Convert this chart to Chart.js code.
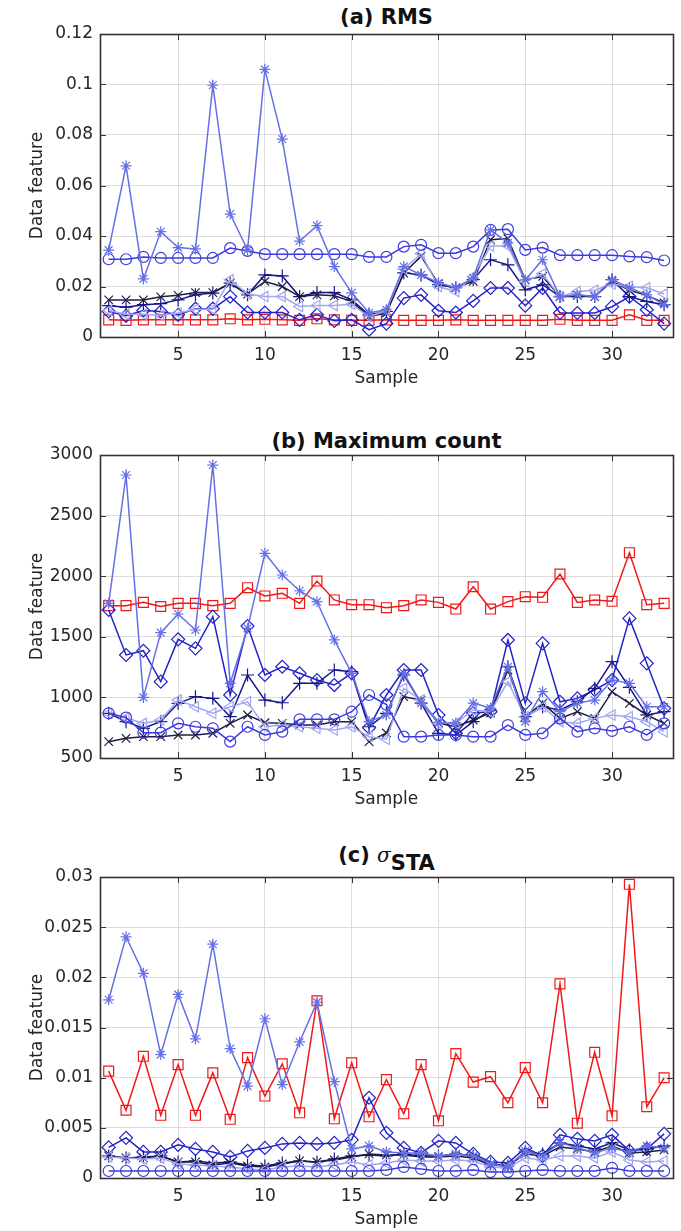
<!DOCTYPE html>
<html lang="en">
<head>
<meta charset="UTF-8">
<title>Data features</title>
<script src="https://cdn.jsdelivr.net/npm/chart.js"></script>
<style>
  body { margin: 0; background: #fff; width: 681px; height: 1231px; position: relative; overflow: hidden; }
  .panel { position: absolute; left: 0; }
  .ttl {
    position: absolute; left: 100px; width: 573px; text-align: center;
    font: bold 21px "DejaVu Sans", sans-serif; color: #111; line-height: 25px;
  }
  .ttl .sig { font: italic normal 20px "DejaVu Serif", serif; }
  .ttl sub { font-size: 21px; vertical-align: -8px; line-height: 0; }
</style>
</head>
<body>
<div class="ttl" style="top:5px">(a) RMS</div>
<div class="ttl" style="top:429px">(b) Maximum count</div>
<div class="ttl" style="top:843px">(c) <span class="sig">σ</span><sub>STA</sub></div>

<canvas class="panel" id="chartA" width="681" height="400" style="top:0px"></canvas>
<canvas class="panel" id="chartB" width="681" height="400" style="top:420px"></canvas>
<canvas class="panel" id="chartC" width="681" height="391" style="top:840px"></canvas>

<script>
const samples = [1,2,3,4,5,6,7,8,9,10,11,12,13,14,15,16,17,18,19,20,21,22,23,24,25,26,27,28,29,30,31,32,33];
const xTicks = [5, 10, 15, 20, 25, 30];

// (a) RMS
const rmsTicks = [0, 0.02, 0.04, 0.06, 0.08, 0.1, 0.12];
const rmsStar = [0.0344,0.0678,0.0230,0.0417,0.0354,0.0349,0.0997,0.0487,0.0345,0.1060,0.0784,0.0380,0.0441,0.0279,0.0175,0.0096,0.0108,0.0279,0.0246,0.0215,0.0195,0.0234,0.0424,0.0373,0.0226,0.0306,0.0160,0.0167,0.0160,0.0227,0.0195,0.0167,0.0128];
const rmsCircle = [0.0308,0.0308,0.0317,0.0313,0.0313,0.0313,0.0313,0.0352,0.0341,0.0328,0.0328,0.0328,0.0328,0.0328,0.0328,0.0317,0.0317,0.0358,0.0365,0.0332,0.0332,0.0358,0.0424,0.0427,0.0345,0.0354,0.0324,0.0324,0.0324,0.0324,0.0319,0.0316,0.0303];
const rmsTri = [0.0105,0.0090,0.0090,0.0085,0.0095,0.0110,0.0110,0.0227,0.0170,0.0160,0.0160,0.0121,0.0125,0.0125,0.0130,0.0080,0.0105,0.0270,0.0330,0.0200,0.0180,0.0240,0.0360,0.0360,0.0220,0.0250,0.0160,0.0180,0.0185,0.0210,0.0200,0.0195,0.0170];
const rmsX = [0.0147,0.0147,0.0147,0.0159,0.0165,0.0176,0.0176,0.0213,0.0170,0.0220,0.0200,0.0160,0.0167,0.0163,0.0141,0.0081,0.0095,0.0253,0.0320,0.0210,0.0195,0.0220,0.0385,0.0390,0.0227,0.0240,0.0160,0.0165,0.0160,0.0220,0.0185,0.0165,0.0135];
const rmsPlus = [0.0124,0.0118,0.0128,0.0132,0.0147,0.0167,0.0174,0.0213,0.0167,0.0246,0.0242,0.0160,0.0176,0.0176,0.0147,0.0088,0.0101,0.0254,0.0246,0.0207,0.0195,0.0227,0.0306,0.0286,0.0187,0.0207,0.0160,0.0160,0.0160,0.0227,0.0160,0.0141,0.0128];
const rmsDiamond = [0.0101,0.0084,0.0105,0.0101,0.0088,0.0112,0.0112,0.0160,0.0097,0.0097,0.0097,0.0068,0.0088,0.0064,0.0068,0.0029,0.0053,0.0154,0.0167,0.0104,0.0097,0.0143,0.0194,0.0194,0.0124,0.0194,0.0095,0.0095,0.0095,0.0120,0.0160,0.0108,0.0053];
const rmsSquare = [0.0068,0.0066,0.0068,0.0068,0.0068,0.0068,0.0068,0.0072,0.0068,0.0070,0.0068,0.0066,0.0072,0.0068,0.0066,0.0066,0.0068,0.0066,0.0066,0.0066,0.0068,0.0066,0.0066,0.0066,0.0066,0.0066,0.0070,0.0066,0.0066,0.0066,0.0088,0.0066,0.0066];

// (b) Maximum count
const maxTicks = [500, 1000, 1500, 2000, 2500, 3000];
const maxStar = [1776,2835,1000,1534,1688,1556,2917,1116,1570,2189,2010,1880,1790,1474,1199,800,855,1200,953,789,789,953,912,1253,800,1047,882,953,978,1143,1116,923,923];
const maxCircle = [869,833,709,709,786,758,745,635,758,690,717,819,819,819,882,1020,940,676,676,690,690,676,676,772,690,704,827,717,745,723,758,690,786];
const maxTri = [870,830,786,813,978,923,869,923,964,758,772,758,745,731,758,676,655,1075,978,786,786,896,882,1130,841,923,800,786,827,855,841,800,717];
const maxX = [635,662,676,676,690,690,704,786,855,791,786,772,772,800,800,635,706,1006,978,789,758,813,871,1226,841,951,827,882,827,1047,951,855,786];
const maxPlus = [869,800,745,800,951,1006,992,841,1185,978,956,1116,1116,1226,1212,758,869,1185,953,704,690,800,896,1253,841,923,896,964,1075,1295,1083,855,882];
const maxDiamond = [1721,1350,1385,1130,1479,1405,1666,1020,1589,1185,1253,1199,1143,1102,1199,750,1020,1226,1226,855,704,871,882,1474,951,1446,964,992,1061,1143,1652,1281,910];
const maxSquare = [1757,1757,1784,1750,1776,1776,1757,1776,1905,1837,1859,1776,1960,1804,1765,1765,1740,1757,1804,1784,1729,1913,1729,1790,1831,1826,2018,1784,1804,1793,2194,1765,1776];

// (c) sigma STA
const staTicks = [0, 0.005, 0.01, 0.015, 0.02, 0.025, 0.03];
const staStar = [0.01776,0.02404,0.0204,0.0123,0.0183,0.01386,0.0233,0.0129,0.00916,0.01587,0.0093,0.01356,0.01753,0.0096,0.0029,0.0032,0.0026,0.0025,0.0025,0.0022,0.0024,0.0022,0.0014,0.0011,0.0027,0.0022,0.0035,0.0030,0.0025,0.0030,0.0026,0.0032,0.0030];
const staCircle = [0.0007,0.0007,0.0007,0.0007,0.0007,0.0007,0.0007,0.0007,0.0007,0.0007,0.0007,0.0007,0.0007,0.0007,0.0007,0.0007,0.0008,0.0011,0.0009,0.0007,0.0007,0.0008,0.0006,0.0006,0.0007,0.0008,0.0007,0.0007,0.0007,0.0010,0.0007,0.0007,0.0007];
const staTri = [0.0021,0.0020,0.0019,0.0020,0.0014,0.0013,0.0012,0.0011,0.0009,0.0008,0.0011,0.0012,0.0011,0.0013,0.0016,0.0013,0.0015,0.0018,0.0017,0.0017,0.0018,0.0017,0.0011,0.0010,0.0020,0.0018,0.0022,0.0022,0.0020,0.0026,0.0018,0.0016,0.0017];
const staX = [0.0022,0.0020,0.0020,0.0022,0.0016,0.0016,0.0013,0.0015,0.0012,0.0011,0.0014,0.0017,0.0016,0.0018,0.0021,0.0024,0.0023,0.0023,0.0021,0.0021,0.0022,0.0020,0.0013,0.0012,0.0024,0.0022,0.0031,0.0029,0.0026,0.0032,0.0025,0.0026,0.0028];
const staPlus = [0.0022,0.0020,0.0021,0.0022,0.0016,0.0017,0.0015,0.0016,0.0013,0.0012,0.0015,0.0017,0.0016,0.0019,0.0022,0.0023,0.0022,0.0024,0.0022,0.0022,0.0024,0.0022,0.0014,0.0012,0.0026,0.0024,0.0035,0.0032,0.0029,0.0035,0.0028,0.0029,0.0032];
const staDiamond = [0.00305,0.0040,0.0026,0.0026,0.0033,0.0029,0.0026,0.0021,0.0027,0.0030,0.0034,0.0035,0.0034,0.0035,0.0038,0.0080,0.0045,0.0030,0.0025,0.0037,0.0035,0.0024,0.0016,0.0015,0.0030,0.0022,0.0043,0.0039,0.0037,0.0043,0.0027,0.0029,0.0044];
const staSquare = [0.01065,0.00675,0.01213,0.00625,0.0113,0.00625,0.01048,0.00585,0.0120,0.00817,0.01138,0.0065,0.01766,0.0059,0.01148,0.0061,0.0098,0.0064,0.0113,0.0057,0.0124,0.00956,0.0101,0.0075,0.0110,0.0075,0.01935,0.00546,0.01253,0.0062,0.02927,0.0071,0.00999];

// marker styles, same for all three panels
const styles = {
  star:    { color: '#6570e6', pointStyle: 'star',     radius: 5.5, rot: 0 },
  circle:  { color: '#3b3bdf', pointStyle: 'circle',   radius: 5.5, rot: 0 },
  tri:     { color: '#a2a6f0', pointStyle: 'triangle', radius: 6,   rot: -90 },
  x:       { color: '#1d1d45', pointStyle: 'crossRot', radius: 6,   rot: 0 },
  plus:    { color: '#15158c', pointStyle: 'cross',    radius: 6.5, rot: 0 },
  diamond: { color: '#2222c8', pointStyle: 'rectRot',  radius: 6.5, rot: 0 },
  square:  { color: '#f01818', pointStyle: 'rect',     radius: 7,   rot: 0 }
};

const txt = '#262626';
const font = { family: '"DejaVu Sans", sans-serif', size: 17 };

function ds(key, values) {
  const s = styles[key];
  return {
    data: samples.map((x, i) => ({ x: x, y: values[i] })),
    borderColor: s.color,
    borderWidth: 1.5,
    pointStyle: s.pointStyle,
    pointRadius: s.radius,
    pointRotation: s.rot,
    pointBorderColor: s.color,
    pointBorderWidth: 1.2,
    pointBackgroundColor: 'rgba(0,0,0,0)',
    pointHoverRadius: s.radius,
    tension: 0
  };
}

// box around the axes with inward ticks on all four sides
const framePlugin = {
  id: 'frame',
  afterDraw(chart) {
    const { ctx, chartArea: a, scales } = chart;
    ctx.save();
    ctx.strokeStyle = '#333333';
    ctx.lineWidth = 1;
    ctx.beginPath();
    scales.x.ticks.forEach(t => {
      const px = Math.round(scales.x.getPixelForValue(t.value)) + 0.5;
      ctx.moveTo(px, a.bottom); ctx.lineTo(px, a.bottom - 6);
      ctx.moveTo(px, a.top); ctx.lineTo(px, a.top + 6);
    });
    scales.y.ticks.forEach(t => {
      const py = Math.round(scales.y.getPixelForValue(t.value)) + 0.5;
      ctx.moveTo(a.left, py); ctx.lineTo(a.left + 6, py);
      ctx.moveTo(a.right, py); ctx.lineTo(a.right - 6, py);
    });
    ctx.stroke();
    ctx.lineWidth = 1.6;
    ctx.strokeRect(Math.round(a.left) + 0.5, Math.round(a.top) + 0.5,
                   Math.round(a.right - a.left), Math.round(a.bottom - a.top));
    ctx.restore();
  }
};

function makeChart(id, datasets, yTicks, padTop, padBottom) {
  return new Chart(document.getElementById(id), {
    type: 'line',
    data: { datasets: datasets },
    plugins: [framePlugin],
    options: {
      responsive: false,
      animation: false,
      layout: { padding: { left: 0, right: 8, top: padTop, bottom: padBottom } },
      plugins: { legend: { display: false }, tooltip: { enabled: false } },
      scales: {
        x: {
          type: 'linear', min: 0.5, max: 33.5,
          afterBuildTicks: s => { s.ticks = xTicks.map(v => ({ value: v })); },
          afterFit: s => { s.height = 52; },
          grid: { color: '#dcdcdc', drawTicks: false },
          border: { display: false },
          ticks: { color: txt, font: font, padding: 8, maxRotation: 0 },
          title: { display: true, text: 'Sample', color: txt, font: font, padding: 0 }
        },
        y: {
          type: 'linear', min: yTicks[0], max: yTicks[yTicks.length - 1],
          afterBuildTicks: s => { s.ticks = yTicks.map(v => ({ value: v })); },
          afterFit: s => { s.width = 100; },
          grid: { color: '#dcdcdc', drawTicks: false },
          border: { display: false },
          ticks: { color: txt, font: font, padding: 7, callback: v => String(v) },
          title: { display: true, text: 'Data feature', color: txt, font: font, padding: { top: 27, bottom: 0 } }
        }
      }
    }
  });
}

makeChart('chartA', [
  ds('star', rmsStar), ds('circle', rmsCircle), ds('tri', rmsTri), ds('x', rmsX),
  ds('plus', rmsPlus), ds('diamond', rmsDiamond), ds('square', rmsSquare)
], rmsTicks, 34, 11);

makeChart('chartB', [
  ds('star', maxStar), ds('circle', maxCircle), ds('tri', maxTri), ds('x', maxX),
  ds('plus', maxPlus), ds('diamond', maxDiamond), ds('square', maxSquare)
], maxTicks, 35, 10);

makeChart('chartC', [
  ds('star', staStar), ds('circle', staCircle), ds('tri', staTri), ds('x', staX),
  ds('plus', staPlus), ds('diamond', staDiamond), ds('square', staSquare)
], staTicks, 37, 1);
</script>
</body>
</html>
